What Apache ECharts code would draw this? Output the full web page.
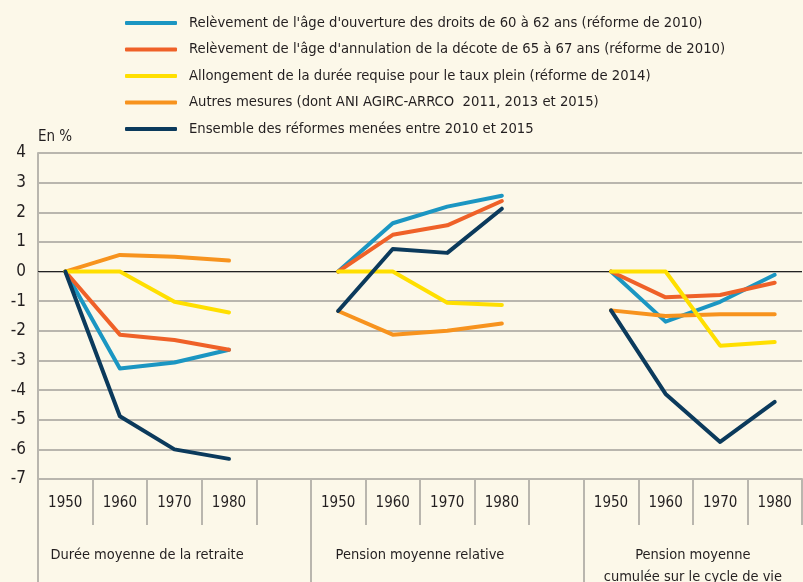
<!DOCTYPE html>
<html>
<head>
<meta charset="utf-8">
<script src="https://cdn.jsdelivr.net/npm/echarts@6/dist/echarts.min.js"></script>
<style>
  html, body { margin: 0; padding: 0; background: #fcf8e9; }
  #chart { width: 803px; height: 582px; }
</style>
</head>
<body>
<div id="chart"></div>
<script>
const years = ['1950', '1960', '1970', '1980', '', '1950', '1960', '1970', '1980', '', '1950', '1960', '1970', '1980'];
const groupLabels = {
    2: 'Durée moyenne de la retraite',
    7: 'Pension moyenne relative',
    12: 'Pension moyenne\ncumulée sur le cycle de vie'
};
const yTicks = [-7, 4];

// one value per category slot, null in the empty gaps
const ageOuverture = [0, -3.27, -3.07, -2.64, null, 0, 1.63, 2.19, 2.56, null, 0, -1.69, -1.02, -0.11];
const ageDecote = [0, -2.13, -2.31, -2.64, null, 0, 1.24, 1.56, 2.38, null, 0, -0.87, -0.79, -0.38];
const dureeRequise = [0, 0, -1.02, -1.38, null, 0, 0, -1.05, -1.13, null, 0, 0, -2.5, -2.38];
const autresMesures = [0, 0.56, 0.5, 0.37, null, -1.33, -2.13, -2.0, -1.75, null, -1.31, -1.5, -1.44, -1.44];
const ensemble = [0, -4.88, -6.0, -6.32, null, -1.33, 0.76, 0.63, 2.12, null, -1.31, -4.13, -5.75, -4.4];

const names = [
    "Relèvement de l'âge d'ouverture des droits de 60 à 62 ans (réforme de 2010)",
    "Relèvement de l'âge d'annulation de la décote de 65 à 67 ans (réforme de 2010)",
    "Allongement de la durée requise pour le taux plein (réforme de 2014)",
    "Autres mesures (dont ANI AGIRC-ARRCO  2011, 2013 et 2015)",
    "Ensemble des réformes menées entre 2010 et 2015"
];

const font = "'DejaVu Sans Condensed', 'Liberation Sans', sans-serif";
const textColor = '#231f20';
const gridColor = '#b9b6ae';

const line = (name, data, color, z) => ({
    name, data, type: 'line', z,
    symbol: 'none',
    connectNulls: false,
    lineStyle: { color, width: 4, cap: 'round', join: 'round' },
    itemStyle: { color }
});

const chart = echarts.init(document.getElementById('chart'));

const series = [
    line(names[0], ageOuverture, '#1b96c2', 3),
    line(names[1], ageDecote, '#ef6128', 4),
    line(names[3], autresMesures, '#f7931e', 5),
    line(names[2], dureeRequise, '#ffdf00', 6),
    line(names[4], ensemble, '#0b3a5c', 7)
];
series[0].markLine = {
    silent: true,
    symbol: 'none',
    label: { show: false },
    lineStyle: { color: '#222', width: 1.2, type: 'solid' },
    data: [{ yAxis: 0 }]
};

chart.setOption({
    backgroundColor: '#fcf8e9',
    animation: false,
    textStyle: { fontFamily: font, color: textColor },
    legend: {
        orient: 'vertical',
        left: 120,
        top: 10,
        icon: 'roundRect',
        itemWidth: 52,
        itemHeight: 4,
        itemGap: 10.5,
        data: names,
        textStyle: { fontFamily: font, fontSize: 14.7, lineHeight: 16, color: textColor, padding: [0, 0, 0, 7] }
    },
    grid: { left: 38, right: 1, top: 153, bottom: 103, containLabel: false, outerBoundsMode: 'none' },
    xAxis: [{
        type: 'category',
        data: years,
        boundaryGap: true,
        axisLine: { show: true, onZero: false, lineStyle: { color: gridColor, width: 2 } },
        axisTick: { show: true, interval: 0, length: 46, lineStyle: { color: gridColor, width: 2 } },
        axisLabel: { interval: 0, margin: 17, fontSize: 15, color: textColor, fontFamily: font }
    }, {
        type: 'value',
        min: 0,
        max: 14,
        position: 'bottom',
        axisLine: { show: false, onZero: false },
        splitLine: { show: false },
        axisTick: { show: true, customValues: [0, 5, 10], length: 103, lineStyle: { color: gridColor, width: 2 } },
        axisLabel: {
            customValues: [2, 7, 12],
            margin: 65,
            fontSize: 14.5,
            lineHeight: 22,
            color: textColor,
            fontFamily: font,
            formatter: v => groupLabels[v] || ''
        }
    }],
    yAxis: {
        type: 'value',
        min: yTicks[0],
        max: yTicks[1],
        interval: 1,
        name: 'En %',
        nameLocation: 'end',
        nameGap: 8,
        nameTextStyle: { align: 'left', fontSize: 15, color: textColor, fontFamily: font },
        axisLine: { show: true, lineStyle: { color: gridColor, width: 2 } },
        axisTick: { show: false },
        axisLabel: { margin: 12, fontSize: 17, color: textColor, fontFamily: font },
        splitLine: { lineStyle: { color: gridColor, width: 2 } }
    },
    series
});

window.addEventListener('resize', () => chart.resize());
</script>
</body>
</html>
